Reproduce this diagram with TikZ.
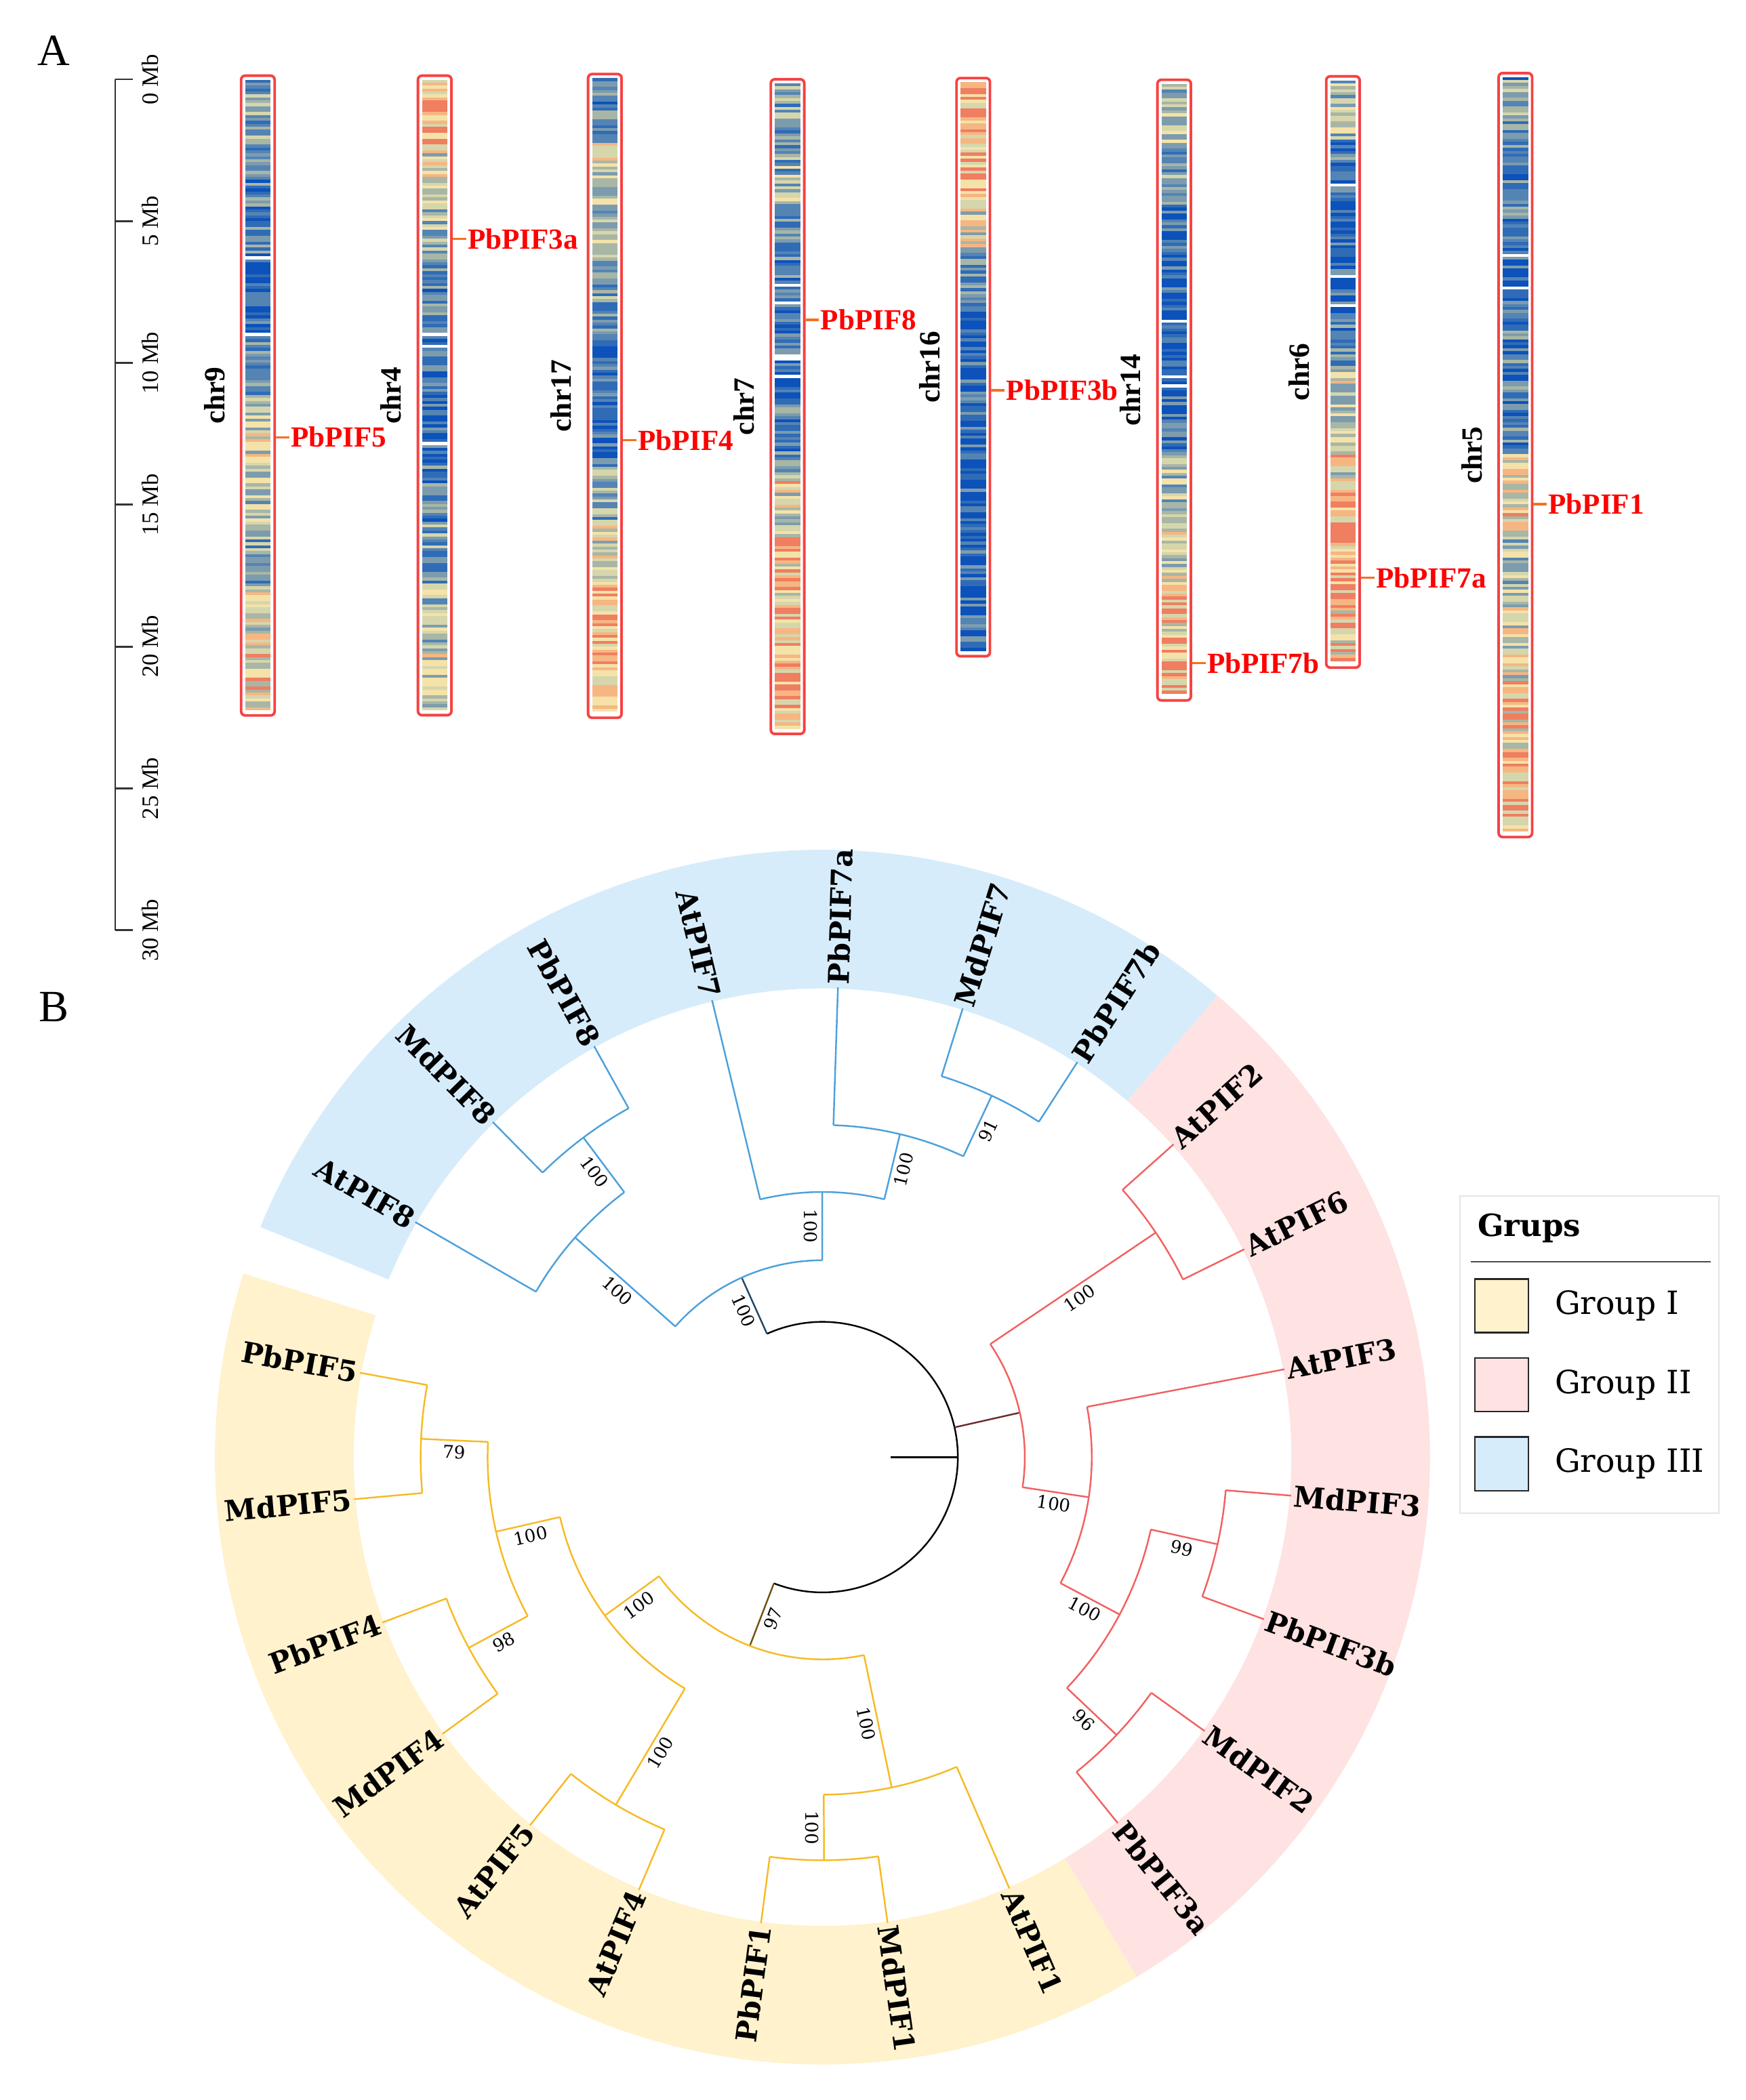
\documentclass[tikz,border=0pt]{standalone}
\usepackage{fontspec}
\setmainfont{Liberation Serif}
\newfontfamily\treefont{DejaVu Serif}
\usepackage{tikz}
\usetikzlibrary{positioning}

\definecolor{heat0}{RGB}{12,82,186}
\definecolor{heat1}{RGB}{48,108,182}
\definecolor{heat2}{RGB}{84,132,180}
\definecolor{heat3}{RGB}{124,156,174}
\definecolor{heat4}{RGB}{168,182,166}
\definecolor{heat5}{RGB}{214,214,172}
\definecolor{heat6}{RGB}{244,226,168}
\definecolor{heat7}{RGB}{246,182,130}
\definecolor{heat8}{RGB}{240,126,96}
\definecolor{heat9}{RGB}{255,255,255}
\definecolor{chrred}{RGB}{246,66,66}
\definecolor{genered}{RGB}{255,0,0}
\definecolor{geneorange}{RGB}{244,112,32}
\definecolor{grpI}{RGB}{255,242,204}
\definecolor{grpII}{RGB}{255,226,226}
\definecolor{grpIII}{RGB}{214,236,251}
\definecolor{brI}{RGB}{246,186,36}
\definecolor{brII}{RGB}{242,96,96}
\definecolor{brIII}{RGB}{76,160,218}

\pgfmathsetseed{2024}

% one chromosome: name, left x, top y, bottom y, heat profile (10 values)
\newcommand{\chromosome}[5]{%
  \pgfmathtruncatemacro{\nst}{(#4-#3-8.4)/2.2}
  \foreach \i in {0,...,\nst}{
    \pgfmathsetmacro{\yy}{#3+3+2.2*\i}
    \pgfmathtruncatemacro{\seg}{min(9,floor(10*\i/(\nst+1)))}
    \pgfmathsetmacro{\mv}{{#5}[\seg]}
    \pgfmathsetmacro{\vv}{\mv+0.5*(rnd-0.5)}
    \pgfmathsetmacro{\rw}{rnd}
    \pgfmathtruncatemacro{\ci}{(\rw<0.03 && \mv<0.35) ? 9 : max(0,min(8,floor(9*\vv)))}
    \fill[heat\ci] (#2+3,\yy) rectangle (#2+22,\yy+2.4);
  }
  \node[chrbox, minimum height = {(#4-#3)*0.02cm}] (#1) at (#2+12.5,{(#3+#4)/2}) {};
  \node[chrlab] (#1lab) at ([xshift = -0.65cm]#1.center) {#1};
}

\begin{document}
\begin{tikzpicture}[x = 0.02cm, y = 0.02cm,
  chrbox/.style = {draw = chrred, line width = 1.1pt, rounded corners = 0.06cm, minimum width = 0.5cm, inner sep = 0},
  chrlab/.style = {rotate = 90, font = \bfseries\fontsize{12.5}{14}\selectfont},
  genelab/.style = {anchor = west, text = genered, inner sep = 0.5pt, font = \bfseries\fontsize{12.4}{14}\selectfont},
  genelink/.style = {draw = geneorange, line width = 1pt},
  scaleline/.style = {draw = black!80, line width = 0.8pt},
  scalelab/.style = {rotate = 90, font = \fontsize{10}{12}\selectfont},
  panel/.style = {font = \fontsize{19}{22}\selectfont},
  branch/.style = {line width = 0.7pt},
  boot/.style = {midway, sloped, below, inner sep = 1.8pt, text = black, font = \treefont\fontsize{7.5}{8}\selectfont},
  leaf/.style = {inner sep = 1pt, font = \treefont\bfseries\fontsize{12.2}{14}\selectfont},
  swatch/.style = {draw = gray!30!black, line width = 0.7pt, minimum size = 0.8cm, inner sep = 0},
  legtext/.style = {inner sep = 1pt, font = \treefont\fontsize{13.6}{16}\selectfont}]
\useasboundingbox (0,0) rectangle (1303,1568);

\node[panel] (panelA) at (40,1530) {A};
\node[panel] (panelB) at (40,816) {B};

% A: chromosome map
\begin{scope}[shift = {(0,1568)}, yscale = -1]
\draw[scaleline] (86,59.2) -- (86,694.6);
\foreach \m in {0,5,...,30}{
  \draw[scaleline] (86,59.2+21.18*\m) -- (99,59.2+21.18*\m);
  \node[scalelab] (mb\m) at (112,59.2+21.18*\m) {\m{} Mb};
}

\chromosome{chr9}{180}{56.5}{534.2}{0.35,0.3,0.25,0.2,0.3,0.6,0.55,0.4,0.65,0.7}
\chromosome{chr4}{312}{56.5}{534}{0.85,0.65,0.45,0.3,0.2,0.2,0.25,0.35,0.5,0.55}
\chromosome{chr17}{439}{55.3}{536}{0.3,0.55,0.45,0.35,0.15,0.2,0.4,0.65,0.8,0.85}
\chromosome{chr7}{575.4}{59.2}{548}{0.4,0.45,0.3,0.2,0.2,0.3,0.65,0.75,0.8,0.8}
\chromosome{chr16}{714}{58.3}{490}{0.9,0.8,0.6,0.35,0.2,0.15,0.15,0.15,0.15,0.2}
\chromosome{chr14}{864}{59.6}{523}{0.5,0.35,0.2,0.15,0.15,0.2,0.5,0.65,0.7,0.85}
\chromosome{chr6}{990}{57}{498.5}{0.5,0.25,0.1,0.15,0.3,0.55,0.65,0.8,0.85,0.75}
\chromosome{chr5}{1118.7}{54.6}{625}{0.35,0.3,0.2,0.25,0.3,0.65,0.5,0.65,0.75,0.85}

\node[genelab] (locPIF5) at (216,326.5) {PbPIF5};
\node[genelab] (locPIF3a) at (348,178.5) {PbPIF3a};
\node[genelab] (locPIF4) at (475,328.7) {PbPIF4};
\node[genelab] (locPIF8) at (611.4,238.8) {PbPIF8};
\node[genelab] (locPIF3b) at (750,291.5) {PbPIF3b};
\node[genelab] (locPIF7b) at (900,495) {PbPIF7b};
\node[genelab] (locPIF7a) at (1026,431.4) {PbPIF7a};
\node[genelab] (locPIF1) at (1154.7,376.4) {PbPIF1};
\draw[genelink] (chr9.east |- locPIF5.west) -- (locPIF5.west);
\draw[genelink] (chr4.east |- locPIF3a.west) -- (locPIF3a.west);
\draw[genelink] (chr17.east |- locPIF4.west) -- (locPIF4.west);
\draw[genelink] (chr7.east |- locPIF8.west) -- (locPIF8.west);
\draw[genelink] (chr16.east |- locPIF3b.west) -- (locPIF3b.west);
\draw[genelink] (chr14.east |- locPIF7b.west) -- (locPIF7b.west);
\draw[genelink] (chr6.east |- locPIF7a.west) -- (locPIF7a.west);
\draw[genelink] (chr5.east |- locPIF1.west) -- (locPIF1.west);
\end{scope}

% B: circular tree
\begin{scope}[shift = {(614,480)}]
\fill[grpIII] (157.73:350) arc[start angle = 157.73, end angle = 49.45, radius = 350]
  -- (49.45:453.5) arc[start angle = 49.45, end angle = 157.73, radius = 453.5] -- cycle;
\fill[grpII] (49.45:350) arc[start angle = 49.45, end angle = -58.85, radius = 350]
  -- (-58.85:453.5) arc[start angle = -58.85, end angle = 49.45, radius = 453.5] -- cycle;
\fill[grpI] (-58.85:350) arc[start angle = -58.85, end angle = -197.6, radius = 350]
  -- (-197.6:453.5) arc[start angle = -197.6, end angle = -58.85, radius = 453.5] -- cycle;

% root
\coordinate (root) at (0:101);
\draw[branch] (0:51) -- (root);
\draw[branch] (114.23:101) arc[start angle = 114.23, end angle = -111.06, radius = 101];

% inner nodes: name/angle/parent radius/radius/stem colour/fork colour/bootstrap/fork from/fork to
\foreach \nm/\a/\rp/\r/\cs/\ca/\bs/\fa/\fb in {
  B0/114.23/101/147/brIII!45!black/brIII/100/138.40/90.06,
  B1/138.40/147/247/brIII/brIII/100/150/126.80,
  B2/126.80/247/298/brIII/brIII/100/134.53/119.06,
  B3/90.06/147/198/brIII/brIII/100/103.59/76.52,
  B4/76.52/198/248/brIII/brIII/100/88.12/64.92,
  B5/64.92/248/298/brIII/brIII/91/72.65/57.18,
  P0/12.71/101/151/brII!45!black/brII//33.98/-8.57,
  P1/33.98/151/300/brII/brII/100/41.71/26.24,
  P2/-8.57/151/201/brII/brII/100/10.77/-27.91,
  P3/-27.91/201/251/brII/brII/100/-12.44/-43.38,
  P4/-12.44/251/302/brII/brII/99/-4.70/-20.17,
  P5/-43.38/251/302/brII/brII/96/-35.64/-51.11,
  Y0/-111.06/101/151/brI!45!black/brI/97/-78.18/-143.94,
  Y1/-78.18/151/252/brI/brI/100/-66.58/-89.79,
  Y2/-89.79/252/301/brI/brI/100/-82.05/-97.52,
  Y3/-143.94/151/201/brI/brI/100/-120.73/-167.14,
  Y4/-120.73/201/302/brI/brI/100/-112.99/-128.46,
  Y5/-167.14/201/250/brI/brI/100/-151.67/-182.61,
  Y6/-151.67/250/300/brI/brI/98/-143.93/-159.40,
  Y7/-182.61/250/300/brI/brI/79/-174.87/-190.34}{
  \coordinate (\nm) at (\a:\r);
  \draw[branch, color = \cs] (\a:\rp) -- (\nm) node[boot] {\bs};
  \draw[branch, color = \ca] (\fa:\r) arc[start angle = \fa, end angle = \fb, radius = \r];
}

% leaves
\foreach \nm/\k/\rp/\c in {AtPIF8/0/247/brIII, MdPIF8/1/298/brIII, PbPIF8/2/298/brIII,
  AtPIF7/3/198/brIII, PbPIF7a/4/248/brIII, MdPIF7/5/298/brIII, PbPIF7b/6/298/brIII,
  AtPIF2/7/300/brII, AtPIF6/8/300/brII, AtPIF3/9/201/brII, MdPIF3/10/302/brII,
  PbPIF3b/11/302/brII, MdPIF2/12/302/brII, PbPIF3a/13/302/brII,
  AtPIF1/14/252/brI, MdPIF1/15/301/brI, PbPIF1/16/301/brI, AtPIF4/17/302/brI,
  AtPIF5/18/302/brI, MdPIF4/19/300/brI, PbPIF4/20/300/brI, MdPIF5/21/300/brI,
  PbPIF5/22/300/brI}{
  \pgfmathsetmacro{\a}{150-15.47*\k}
  \pgfmathtruncatemacro{\flip}{(\a>90 || \a<-90) ? 1 : 0}
  \ifnum\flip=1
    \node[leaf, anchor = east, rotate = \a+180] (\nm) at (\a:351) {\nm};
    \draw[branch, color = \c] (\a:\rp) -- (\nm.east);
  \else
    \node[leaf, anchor = west, rotate = \a] (\nm) at (\a:351) {\nm};
    \draw[branch, color = \c] (\a:\rp) -- (\nm.west);
  \fi
}
\end{scope}

% legend
\node[draw = black!10, line width = 0.6pt, minimum width = 3.86cm, minimum height = 4.74cm, inner sep = 0] (legend) at (1186.5,556.5) {};
\node[anchor = west, inner sep = 1pt, font = \treefont\bfseries\fontsize{13}{15}\selectfont] (grups) at (1101,651) {Grups};
\draw[gray!60!black, line width = 0.6pt] (1098,626) -- (1277,626);
\node[swatch, fill = grpI] (swI) at (1121,593) {};
\node[swatch, fill = grpII] (swII) at (1121,534) {};
\node[swatch, fill = grpIII] (swIII) at (1121,475) {};
\node[legtext, right = 0.34cm of swI] (txtI) {Group I};
\node[legtext, right = 0.34cm of swII] (txtII) {Group II};
\node[legtext, right = 0.34cm of swIII] (txtIII) {Group III};
\end{tikzpicture}
\end{document}
